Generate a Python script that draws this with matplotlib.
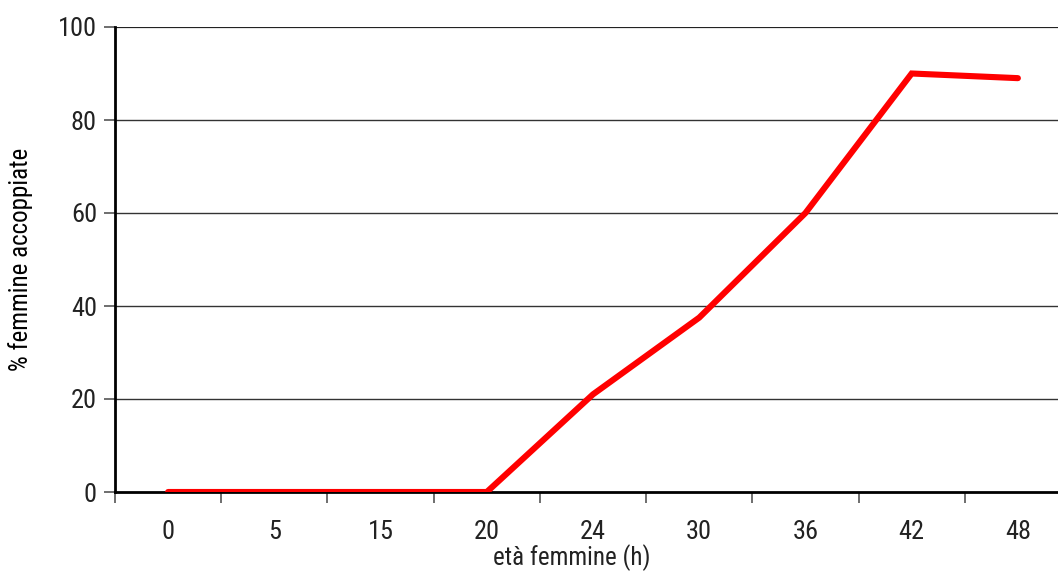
import matplotlib.pyplot as plt
from matplotlib import font_manager

# data
ages = ["0", "5", "15", "20", "24", "30", "36", "42", "48"]
pct_mated = [0, 0, 0, 0, 21, 37.5, 60, 90, 89]

names = {f.name for f in font_manager.fontManager.ttflist}
preferred = ["Liberation Sans Narrow", "Roboto Condensed", "Open Sans Condensed", "Noto Sans Condensed"]
narrow = [n for n in preferred if n in names] + sorted(n for n in names if "Narrow" in n or "Condensed" in n)
if narrow:
    plt.rcParams['font.family'] = [narrow[0], 'DejaVu Sans']
else:
    plt.rcParams['font.family'] = ['DejaVu Sans']
    plt.rcParams['font.stretch'] = 'condensed'
plt.rcParams['text.color'] = '#222222'
plt.rcParams['xtick.labelcolor'] = '#222222'
plt.rcParams['ytick.labelcolor'] = '#222222'

fig = plt.figure(figsize=(10.58, 5.71), dpi=100)
ax = fig.add_axes([115 / 1058, 79 / 571, 956 / 1058, 465 / 571])

x = list(range(len(ages)))
ax.plot(x, pct_mated, color="#ff0000", lw=4.4, solid_capstyle="round", solid_joinstyle="miter", zorder=3)

ax.set_xlim(-0.5, len(ages) - 0.5)
ax.set_ylim(0, 100)
ax.set_yticks([0, 20, 40, 60, 80, 100])
for v in [20, 40, 60, 80]:
    ax.axhline(v, color="#333333", lw=1.0, zorder=1)
ax.axhline(100, color="#222222", lw=1.6, zorder=1)

# category ticks between labels, labels centred
ax.set_xticks([i - 0.5 for i in range(len(ages) + 1)])
ax.set_xticklabels([])
ax.set_xticks(x, minor=True)
ax.set_xticklabels(ages, minor=True)
ax.tick_params(axis="x", which="major", length=8, width=1.2, color="#555555", direction="out")
ax.tick_params(axis="x", which="minor", length=0, pad=20, labelsize=19)
ax.tick_params(axis="y", length=8, width=1.2, color="#555555", labelsize=19, pad=5)

for s in ["top", "right"]:
    ax.spines[s].set_visible(False)
ax.spines["left"].set_linewidth(2)
ax.spines["bottom"].set_linewidth(2)

ax.set_ylabel("% femmine accoppiate", fontsize=18, labelpad=18)
fig.text(572 / 1058, 1 - 558 / 571, "età femmine (h)", fontsize=18, ha="center", va="center")

fig.savefig("out.png", dpi=100)
